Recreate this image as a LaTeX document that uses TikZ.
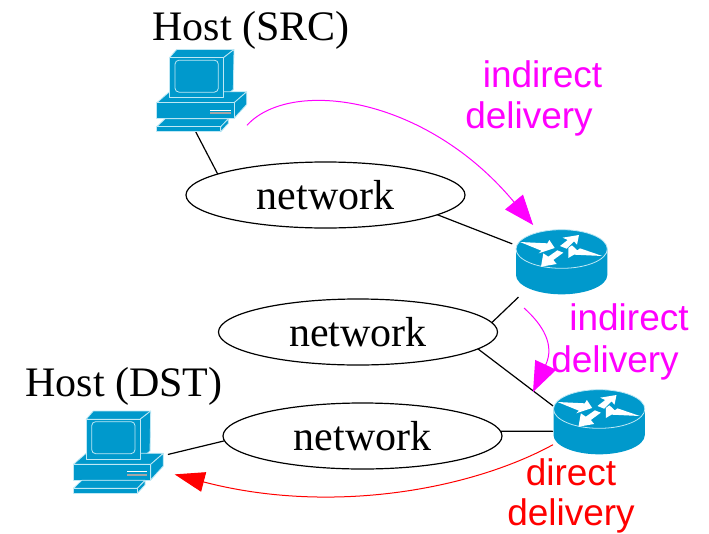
\documentclass[tikz,border=0pt]{standalone}
\usepackage{fontspec}
\setmainfont{Liberation Serif}
\setsansfont{Liberation Sans}
\usetikzlibrary{shapes.geometric,arrows.meta}
\definecolor{cisco}{RGB}{0,153,204}
\definecolor{ciscoedge}{RGB}{190,232,245}
\definecolor{pinkish}{RGB}{255,0,255}
\definecolor{redish}{RGB}{255,0,0}
\tikzset{
  net/.style={ellipse,draw=black,line width=1.2pt,fill=white,minimum width=279,minimum height=66,inner sep=0,outer sep=0,font=\fontsize{42}{44}\selectfont},
  box/.style={rectangle,inner sep=0,outer sep=0},
  serifl/.style={font=\fontsize{42}{44}\selectfont,inner sep=0},
  sansl/.style={font=\sffamily\fontsize{37}{40}\selectfont,inner sep=0},
  link/.style={line width=1.2pt,draw=black},
  mag/.style={draw=pinkish,line width=1pt,-{Triangle[length=30,width=23,fill=pinkish]}},
  redarrow/.style={draw=redish,line width=1pt,-{Triangle[length=30,width=20,fill=redish]}},
  cis/.style={fill=cisco,draw=ciscoedge,line width=.8pt,line join=round},
  wht/.style={fill=white,draw=none}
}
\newcommand{\hosticon}[2]{%
 \begin{scope}[shift={(#1,#2)},x=0.3333pt,y=-0.3333pt]
  \path[cis] (88,55)--(110,30)--(282,30)--(250,55)--cycle;
  \path[cis] (250,55)--(282,30)--(280,150)--(250,175)--cycle;
  \path[cis] (50,190)--(88,157)--(320,157)--(282,190)--cycle;
  \path[cis] (282,190)--(320,157)--(320,195)--(282,237)--cycle;
  \path[cis] (50,190) rectangle (282,237);
  \path[cis] (88,55) rectangle (250,175);
  \draw[ciscoedge,line width=.8pt,rounded corners=4pt] (105,62) rectangle (235,158);
  \fill[white] (210,211) rectangle (272,213.5);
  \fill[gray!70] (210,218) rectangle (272,225);
  \path[cis] (50,262)--(75,238)--(265,238)--(242,262)--cycle;
  \path[cis] (242,262)--(265,238)--(265,252)--(242,277)--cycle;
  \path[cis] (50,262) rectangle (242,277);
 \end{scope}}
\newcommand{\routericon}[2]{%
 \begin{scope}[shift={(#1,#2)},x=0.3333pt,y=-0.3333pt]
  \path[fill=cisco] (48,87) -- (48,165) arc[start angle=180,end angle=0,x radius=137,y radius=58] -- (322,87) -- cycle;
  \path[cis] (185,87) ellipse[x radius=137,y radius=58];
  \path[wht] (60,66)--(142,70)--(148,60)--(164,84)--(116,100)--(124,92)--cycle;
  \path[wht] (237,45)--(188,53)--(203,60)--(180,78)--(200,86)--(222,64)--(231,74)--cycle;
  \path[wht] (123,140)--(170,132)--(160,120)--(190,98)--(172,91)--(145,110)--(130,100)--cycle;
  \path[wht] (205,84)--(205,114)--(222,104)--(307,108)--(240,85)--(232,91)--(216,76)--cycle;
 \end{scope}}
\begin{document}
\begin{tikzpicture}[x=1pt,y=-1pt]
\useasboundingbox (0,0) rectangle (709,533);
% invisible frames of the icons
\node[box,minimum width=91,minimum height=84] (h1) at (201.5,91) {};
\node[box,minimum width=92,minimum height=82] (h2) at (118,453) {};
\node[box,minimum width=90,minimum height=63] (r1) at (561,263.5) {};
\node[box,minimum width=91,minimum height=63] (r2) at (598.5,422.5) {};
\coordinate (a2s) at (524,308);
\coordinate (a2e) at (533,392);
% links
\node[net] (n1) at (325.5,195) {network};
\node[net] (n2) at (358,332) {network};
\node[net] (n3) at (362.5,436) {network};
\draw[link,shorten <=-6pt] (h1.-97.5) -- (n1.169.7);
\draw[link,shorten >=4pt] (n1.-10.6) -- (r1.158.8);
\draw[link,shorten <=3pt] (r1.218.6) -- (n2.4.3);
\draw[link] (n2.-8.6) -- (r2.160.5);
\draw[link] (n3.2) -- (r2.191.5);
\draw[link,shorten >=4pt] (n3.182.9) -- (h2.-3.4);
% icons
\hosticon{140}{39.5}
\hosticon{56.7}{401}
\routericon{500}{220}
\routericon{537.5}{380}
% delivery arrows
\draw[mag,shorten >=9pt] (h1.-37) .. controls (290,78) and (425,95) .. (r1.125);
\draw[mag] (a2s) .. controls (543,325) and (555,345) .. (a2e);
\draw[redarrow,shorten >=11pt] (r2.206.3) .. controls (470,490) and (330,515) .. (h2.-22.8);
% labels
\node[serifl] (t1) at (251,30.5) {Host (SRC)};
\node[serifl] (t2) at (124,386) {Host (DST)};
\node[sansl,text=pinkish] (t3) at (542.5,74) {indirect};
\node[sansl,text=pinkish] (t4) at (529,119) {delivery};
\node[sansl,text=pinkish] (t5) at (629,317) {indirect};
\node[sansl,text=pinkish] (t6) at (615,363) {delivery};
\node[sansl,text=redish] (t7) at (571,472) {direct};
\node[sansl,text=redish] (t8) at (571,516) {delivery};
\end{tikzpicture}
\end{document}
